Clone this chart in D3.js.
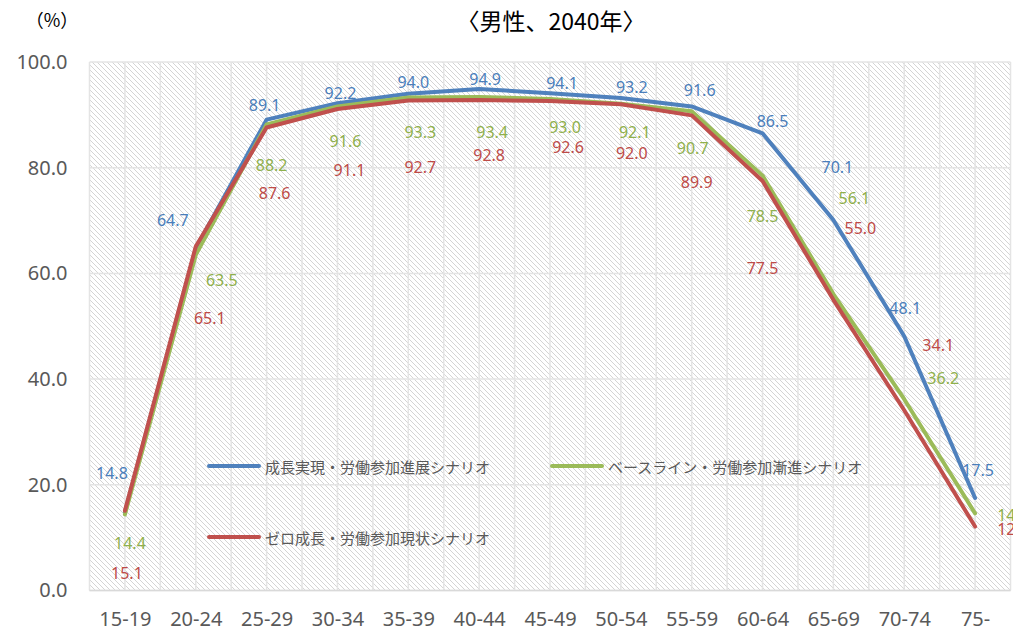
<!DOCTYPE html>
<html><head><meta charset="utf-8">
<script src="https://cdn.jsdelivr.net/npm/d3@7"></script>
<style>
body{margin:0;background:#fff;}
text{font-family:"Noto Sans CJK JP","Noto Sans",sans-serif;}
</style></head>
<body><svg id="c" width="1013" height="641"></svg>
<script>
const categories = ["15-19","20-24","25-29","30-34","35-39","40-44","45-49","50-54","55-59","60-64","65-69","70-74","75-"];
const seriesNames = ["成長実現・労働参加進展シナリオ","ベースライン・労働参加漸進シナリオ","ゼロ成長・労働参加現状シナリオ"];
const growthValues = [14.8,64.7,89.1,92.2,94.0,94.9,94.1,93.2,91.6,86.5,70.1,48.1,17.5];
const baselineValues = [14.4,63.5,88.2,91.6,93.3,93.4,93.0,92.1,90.7,78.5,56.1,36.2,14.6];
const zeroValues = [15.1,65.1,87.6,91.1,92.7,92.8,92.6,92.0,89.9,77.5,55.0,34.1,12.1];
const yTicks = [0,20,40,60,80,100];
const title = "〈男性、2040年〉";
const unitLabel = "（%）";

// styles (label offsets in px relative to point)
const colors = ["#4f81bd","#9bbb59","#c0504d"];
const labelColors = ["#4a7ebb","#8fb04c","#be4b48"];
const labelOffsets = [
  [[-13,-39],[-23,-29],[-2,-15],[3,-10],[5,-12],[6,-10],[12,-10],[11,-11],[8,-16],[10,-12],[4,-53],[1,-28],[3,-28]],
  [[5,29],[26,25],[5,41],[8,35],[12,35],[13,35],[15,28],[14,28],[1,37],[0,40],[21,-96],[39,-21],[38,2]],
  [[2,62],[14,72],[8,65],[12,61],[12,66],[10,55],[18,46],[11,49],[5,67],[0,87],[27,-72],[34,-65],[38,2]]
];

const svg = d3.select("#c");
const L=89.5, R=1010.5, T=62, B=590.5;
const x = d3.scalePoint().domain(categories).range([L,R]).padding(0.5);
const y = d3.scaleLinear().domain([0,100]).range([B,T]);

const defs = svg.append("defs");
const pat = defs.append("pattern").attr("id","hatch").attr("patternUnits","userSpaceOnUse")
  .attr("width",5).attr("height",5);
pat.append("rect").attr("width",5).attr("height",5).attr("fill","#fff");
pat.append("path").attr("d","M-1,-1 L6,6 M-1,4 L1,6 M4,-1 L6,1").attr("stroke","#d4d4d4").attr("stroke-width",1);

svg.append("rect").attr("x",L).attr("y",T).attr("width",R-L).attr("height",B-T).attr("fill","url(#hatch)");

// vertical gridlines at category centers and boundaries
const step = x.step();
const vx = [];
categories.forEach(c=>{vx.push(x(c)-step/2); vx.push(x(c));});
vx.push(x(categories[categories.length-1])+step/2);
svg.append("g").selectAll("line").data(vx).join("line")
  .attr("x1",d=>d).attr("x2",d=>d).attr("y1",T).attr("y2",B)
  .attr("stroke","#e4e4e4").attr("stroke-width",1.5);
svg.append("g").selectAll("line").data(yTicks).join("line")
  .attr("x1",L).attr("x2",R).attr("y1",d=>y(d)).attr("y2",d=>y(d))
  .attr("stroke","#e4e4e4").attr("stroke-width",1.5);
svg.append("line").attr("x1",L).attr("x2",R).attr("y1",B).attr("y2",B).attr("stroke","#d9d9d9").attr("stroke-width",1.5);

// axes
const yAxis = d3.axisLeft(y).tickValues(yTicks).tickFormat(d=>d.toFixed(1)).tickSize(0).tickPadding(22);
const gy = svg.append("g").attr("transform",`translate(${L},0)`).call(yAxis);
gy.select(".domain").remove();
gy.selectAll("text").attr("fill","#595959").style("font-size","20px").style("font-family","'Noto Sans',sans-serif");
const xAxis = d3.axisBottom(x).tickSize(0).tickPadding(21);
const gx = svg.append("g").attr("transform",`translate(0,${B})`).call(xAxis);
gx.select(".domain").remove();
gx.selectAll("text").attr("fill","#595959").style("font-size","20px").style("font-family","'Noto Sans',sans-serif");

// lines
const all = [growthValues, baselineValues, zeroValues];
const line = d3.line().x((d,i)=>x(categories[i])).y(d=>y(d));
all.forEach((vals,s)=>{
  svg.append("path").datum(vals).attr("d",line).attr("fill","none")
    .attr("stroke",colors[s]).attr("stroke-width",4).attr("stroke-linejoin","round").attr("stroke-linecap","round");
});
all.forEach((vals,s)=>{
  svg.append("g").selectAll("text").data(vals).join("text")
    .attr("x",(d,i)=>x(categories[i])+labelOffsets[s][i][0])
    .attr("y",(d,i)=>y(d)+labelOffsets[s][i][1])
    .attr("text-anchor","middle").attr("dominant-baseline","central")
    .attr("fill",labelColors[s]).style("font-size","16px").style("font-family","'Noto Sans',sans-serif")
    .text(d=>d.toFixed(1));
});

// legend
const legPos = [[207,466],[550,466],[207,537]];
seriesNames.forEach((n,s)=>{
  const [lx,ly]=legPos[s];
  svg.append("line").attr("x1",lx+2).attr("x2",lx+52).attr("y1",ly).attr("y2",ly)
    .attr("stroke",colors[s]).attr("stroke-width",4).attr("stroke-linecap","round");
  svg.append("text").attr("x",lx+58).attr("y",ly).attr("dominant-baseline","central")
    .attr("fill","#595959").style("font-size","15px").text(n);
});

svg.append("text").attr("x",551).attr("y",20).attr("text-anchor","middle").attr("dominant-baseline","central")
  .attr("fill","#000").style("font-size","23px").text(title);
svg.append("text").attr("x",52).attr("y",19).attr("text-anchor","middle").attr("dominant-baseline","central")
  .attr("fill","#000").style("font-size","18px").text(unitLabel);
</script></body></html>
